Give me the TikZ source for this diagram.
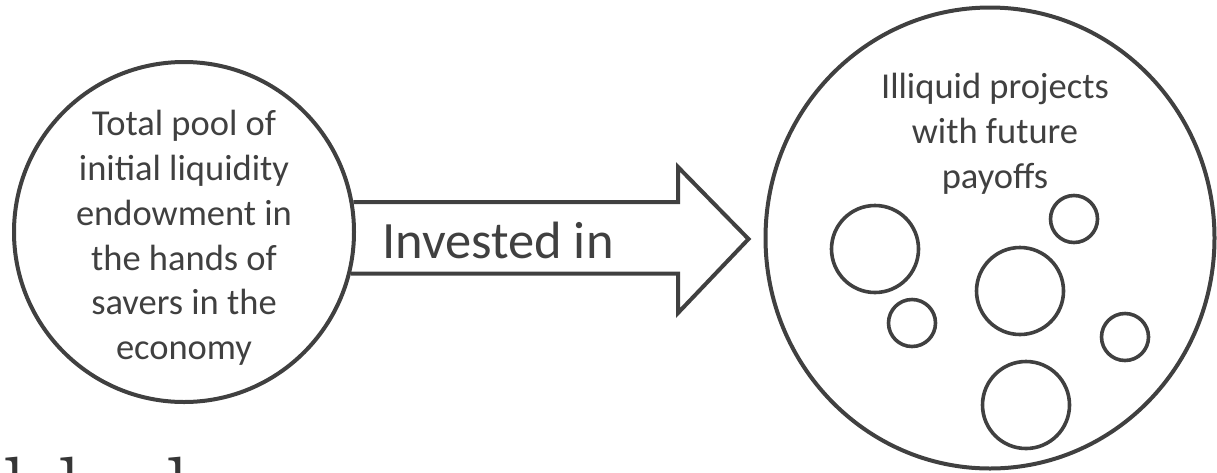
\documentclass[tikz,border=0pt]{standalone}
\usepackage{fontspec}
\setmainfont{Carlito}
\newfontfamily\fragfont{Latin Modern Roman}
\usetikzlibrary{shapes.geometric,calc}
\definecolor{ink}{HTML}{404040}
\tikzset{
  outline/.style={draw=ink, line width=4pt, fill=none},
  bubble/.style={circle, draw=ink, line width=3.6pt, inner sep=0pt},
  bodytext/.style={text=ink, font=\fontsize{36.5}{44.8}\selectfont, align=center, inner sep=0pt},
  frag/.style={text=ink!85!black, font=\fragfont\fontsize{100}{100}\selectfont, inner sep=0pt, anchor=base west},
}
\begin{document}
\begin{tikzpicture}[x=1pt, y=-1pt]
\useasboundingbox (0,0) rectangle (1217,472);
% left circle
\node[circle, outline, minimum size=340pt] (L) at (184,232) {};
\node[bodytext] (Lt) at (184,238)
  {Total pool of\\initial liquidity\\endowment in\\the hands of\\savers in the\\economy};
% right circle
\node[ellipse, outline, minimum width=449pt, minimum height=461pt] (R) at (990,238) {};
\node[bodytext, anchor=north] (Rt) at (995,73) {Illiquid projects\\with future\\payoffs};
% small circles inside
\node[bubble, minimum size=87pt] (b1) at (875,249) {};
\node[bubble, minimum size=47pt] (b2) at (912,323) {};
\node[bubble, minimum size=47pt] (b3) at (1074,219) {};
\node[bubble, minimum size=87pt] (b4) at (1020,291) {};
\node[bubble, minimum size=47pt] (b5) at (1125,337) {};
\node[bubble, minimum size=87pt] (b6) at (1026,405) {};
% block arrow
\coordinate (H1) at (678,167);
\coordinate (H2) at (678,313);
\coordinate (tip) at ($(R.west)+(-15,1)$);
\draw[outline, line join=miter] (L.10) -- (L.10 -| H1) -- (H1) -- (tip) -- (H2)
  -- (L.-14.6 -| H2) -- (L.-14.6);
\node[text=ink, font=\fontsize{52.5}{60}\selectfont, inner sep=0pt, anchor=base west] (lbl) at (382,258) {Invested in};
% cut-off letters at the bottom edge
\node[frag] (f1) at (2,526) {l};
\node[frag] (f2) at (57,526) {l};
\node[frag] (f3) at (165,526) {l};
\end{tikzpicture}
\end{document}
